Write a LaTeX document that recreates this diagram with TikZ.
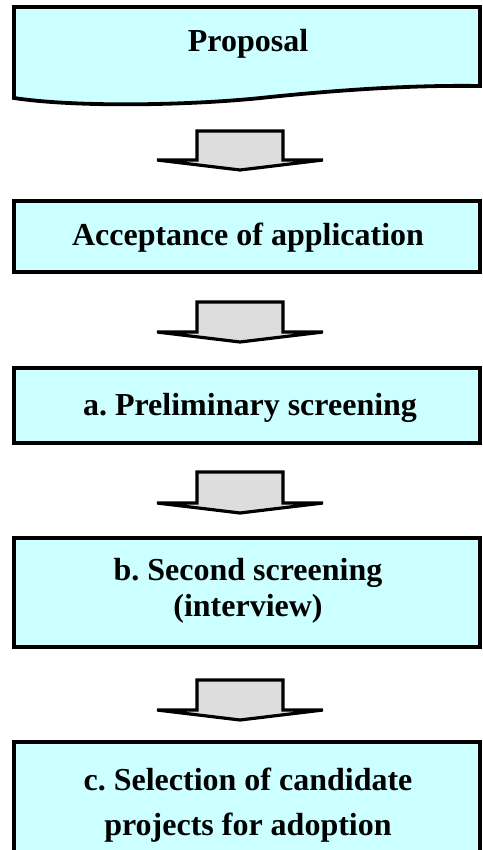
\documentclass[tikz,border=0pt]{standalone}
\usepackage{fontspec}
\setmainfont{Liberation Serif}
\frenchspacing
\definecolor{boxfill}{HTML}{CCFFFF}
\definecolor{arrowfill}{HTML}{DDDDDD}
\tikzset{
  stagebox/.style={draw=black, line width=3.8pt, fill=boxfill, line join=miter},
  blockarrow/.style={draw=black, line width=3.2pt, fill=arrowfill, line join=miter},
  txt/.style={inner sep=0pt, anchor=base, font=\fontsize{32}{37}\selectfont\bfseries}
}
\newcommand{\downarrowat}[2]{% #1 = shaft top, #2 = wing line
  \filldraw[blockarrow] (197,#1) -- (283,#1) -- (283,#2) -- (323,#2) -- (240,#2+10) -- (157,#2) -- (197,#2) -- cycle;}
\begin{document}
\begin{tikzpicture}[x=1pt,y=-1pt]
\clip (0,0) rectangle (482,850);
\fill[white] (0,0) rectangle (482,850);
% Proposal (document shape)
\filldraw[stagebox] (14,7) -- (480,7) -- (480,86)
  .. controls (410,85) and (340,90) .. (270,97)
  .. controls (200,105) and (80,108) .. (14,98) -- cycle;
\node[txt] (proposal) at (248,52) {Proposal};
% arrow 1
\downarrowat{131}{160}
% Acceptance
\node[stagebox, minimum width=466pt, minimum height=71pt, inner sep=0pt] (acc) at (247,236.5) {};
\node[txt] (acctxt) at (248,245) {Acceptance of application};
% arrow 2
\downarrowat{302}{332}
% a.
\node[stagebox, minimum width=466pt, minimum height=75pt, inner sep=0pt] (pre) at (247,405.5) {};
\node[txt] (pretxt) at (250,415) {a. Preliminary screening};
% arrow 3
\downarrowat{472}{503}
% b.
\node[stagebox, minimum width=466pt, minimum height=109pt, inner sep=0pt] (sec) at (247,592.5) {};
\node[txt] (sectxt1) at (248,580) {b. Second screening};
\node[txt] (sectxt2) at (248,616) {(interview)};
% arrow 4
\downarrowat{680}{710}
% c.
\node[stagebox, minimum width=466pt, minimum height=140pt, inner sep=0pt] (sel) at (247,812) {};
\node[txt] (seltxt1) at (248,790) {c. Selection of candidate};
\node[txt] (seltxt2) at (248,835) {projects for adoption};
\end{tikzpicture}
\end{document}
